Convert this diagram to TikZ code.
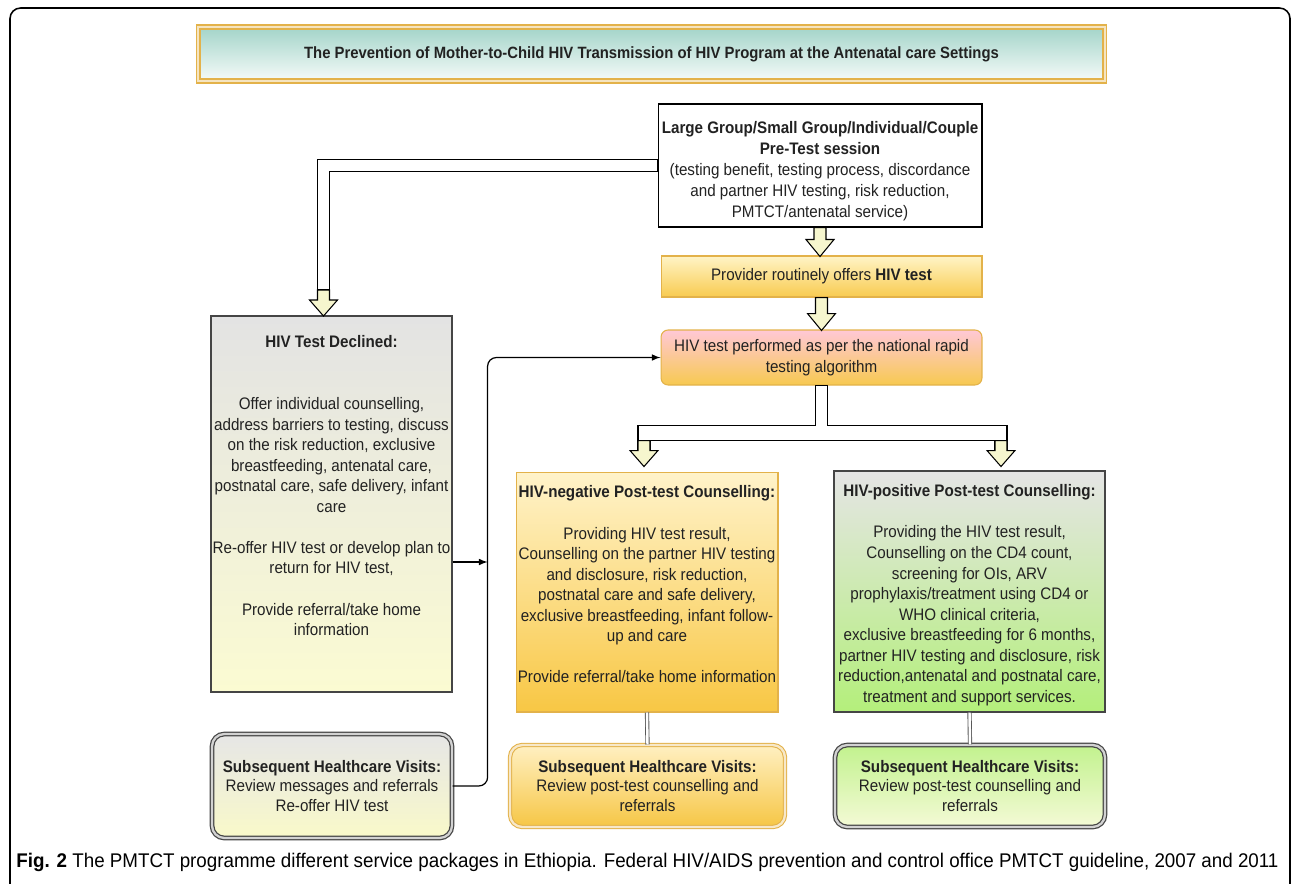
\documentclass[tikz,border=0pt]{standalone}
\usepackage{fontspec}
\setmainfont{Liberation Sans}[FakeStretch=0.91]
\newfontfamily\capfont{Liberation Sans}[FakeStretch=0.95]
\usetikzlibrary{positioning}

\definecolor{txtgray}{HTML}{222222}
\definecolor{paleyel}{HTML}{F6F6CE}
\definecolor{goldline}{HTML}{E3B24A}
\definecolor{darkline}{HTML}{454545}

\tikzset{
  every node/.style={font=\fontsize{9.5}{11.7}\selectfont, text=txtgray, align=center},
  visitfont/.style={font=\fontsize{9.5}{10.9}\selectfont},
  blockarrow/.style={draw=black, fill=paleyel, line width=0.6pt},
  pipe/.style={draw=black, fill=white, line width=0.6pt},
  link/.style={draw=black, line width=0.7pt},
  twinline/.style={draw=gray!70!black, double=white, double distance=1.4pt, line width=0.5pt},
  bannerbox/.style={draw=goldline, double=goldline!35, double distance=1.3pt, line width=0.8pt,
    top color={rgb,255:red,163;green,212;blue,201}, bottom color={rgb,255:red,246;green,251;blue,249}},
  plainbox/.style={draw=black, fill=white, line width=0.6pt},
  offerbox/.style={draw=goldline, line width=0.6pt,
    top color={rgb,255:red,255;green,244;blue,198}, bottom color={rgb,255:red,248;green,203;blue,80}},
  performbox/.style={draw=goldline, line width=0.6pt, rounded corners=4pt,
    top color={rgb,255:red,255;green,200;blue,214}, bottom color={rgb,255:red,247;green,201;blue,80}},
  declinedbox/.style={draw=darkline, line width=0.7pt,
    top color={rgb,255:red,227;green,227;blue,227}, bottom color={rgb,255:red,251;green,251;blue,210}},
  negbox/.style={draw=goldline, line width=0.6pt,
    top color={rgb,255:red,255;green,243;blue,202}, bottom color={rgb,255:red,248;green,199;blue,68}},
  posbox/.style={draw=darkline, line width=0.7pt,
    top color={rgb,255:red,229;green,229;blue,229}, bottom color={rgb,255:red,180;green,239;blue,123}},
  visitgrey/.style={visitfont, draw=darkline, double=gray!35, double distance=1.3pt, line width=0.7pt, rounded corners=7pt,
    top color={rgb,255:red,230;green,230;blue,230}, bottom color={rgb,255:red,249;green,249;blue,201}},
  visitgold/.style={visitfont, draw=goldline, double=goldline!30, double distance=1.3pt, line width=0.6pt, rounded corners=7pt,
    top color={rgb,255:red,255;green,240;blue,194}, bottom color={rgb,255:red,246;green,198;blue,69}},
  visitgreen/.style={visitfont, draw=darkline, double=gray!35, double distance=1.3pt, line width=0.7pt, rounded corners=7pt,
    top color={rgb,255:red,194;green,242;blue,142}, bottom color={rgb,255:red,244;green,250;blue,214}},
}

\begin{document}
\begin{tikzpicture}[x=0.02cm, y=-0.02cm, >=latex]
	\useasboundingbox (0,0) rectangle (1292,883);
	\clip (0,0) rectangle (1292,883);
	\draw [line width=0.9pt, rounded corners=6pt] (10,8) rectangle (1290,905);% outer frame

	% title banner
	\node [bannerbox, minimum width=18.14cm, minimum height=1.08cm, font=\fontsize{9.3}{11}\selectfont] (banner) at (651.5,54)
		{\textbf{The Prevention of Mother-to-Child HIV Transmission of HIV Program at the Antenatal care Settings}};

	% right column
	\node [plainbox, minimum width=6.48cm, minimum height=2.46cm] (pretest) at (820,165.5) {};
	\node [inner sep=0pt, below=0.36cm of pretest.north, font=\fontsize{9.5}{11.9}\selectfont] (pretesttxt)
		{\textbf{Large Group/Small Group/Individual/Couple}\\ \textbf{Pre-Test session}\\ (testing benefit, testing process, discordance\\ and partner HIV testing, risk reduction,\\ PMTCT/antenatal service)};
	\node [offerbox, minimum width=6.42cm, minimum height=0.82cm] (offer) at (821.5,276.5)
		{Provider routinely offers \textbf{HIV test}};
	\node [performbox, minimum width=6.42cm, minimum height=1.1cm] (perform) at (821.5,357.5)
		{HIV test performed as per the national rapid\\ testing algorithm};

	% left column
	\node [declinedbox, minimum width=4.82cm, minimum height=7.52cm] (declined) at (331.5,504) {};
	\node [inner sep=0pt, below=0.4cm of declined.north] (declinedtxt)
		{\textbf{HIV Test Declined:}\\[23.4pt] Offer individual counselling,\\ address barriers to testing, discuss\\ on the risk reduction, exclusive\\ breastfeeding, antenatal care,\\ postnatal care, safe delivery, infant\\ care\\[11.7pt] Re-offer HIV test or develop plan to\\ return for HIV test,\\[11.7pt] Provide referral/take home\\ information};
	\node [visitgrey, minimum width=4.8cm, minimum height=2.08cm] (visitL) at (332,786)
		{\textbf{Subsequent Healthcare Visits:}\\ Review messages and referrals\\ Re-offer HIV test};

	% post-test counselling
	\node [negbox, minimum width=5.24cm, minimum height=4.8cm] (negbox) at (647,592) {};
	\node [inner sep=0pt, below=0.28cm of negbox.north] (negtxt)
		{\textbf{HIV-negative Post-test Counselling:}\\[11.7pt] Providing HIV test result,\\ Counselling on the partner HIV testing\\ and disclosure, risk reduction,\\ postnatal care and safe delivery,\\ exclusive breastfeeding, infant follow-\\ up and care\\[11.7pt] Provide referral/take home information};
	\node [posbox, minimum width=5.42cm, minimum height=4.82cm] (posbox) at (969.5,591.5) {};
	\node [inner sep=0pt, below=0.28cm of posbox.north] (postxt)
		{\textbf{HIV-positive Post-test Counselling:}\\[11.7pt] Providing the HIV test result,\\ Counselling on the CD4 count,\\ screening for OIs, ARV\\ prophylaxis/treatment using CD4 or\\ WHO clinical criteria,\\ exclusive breastfeeding for 6 months,\\ partner HIV testing and disclosure, risk\\ reduction,antenatal and postnatal care,\\ treatment and support services.};
	\node [visitgold, minimum width=5.5cm, minimum height=1.64cm] (visitN) at (647.5,786)
		{\textbf{Subsequent Healthcare Visits:}\\ Review post-test counselling and\\ referrals};
	\node [visitgreen, minimum width=5.4cm, minimum height=1.64cm] (visitP) at (970,786)
		{\textbf{Subsequent Healthcare Visits:}\\ Review post-test counselling and\\ referrals};

	% block arrows
	\draw [blockarrow] (pretest.south) ++(-6,0) -- ++(0,12) -- ++(-8,0) -- ++(14,17) -- ++(14,-17) -- ++(-8,0) -- ++(0,-12) -- cycle;
	\draw [blockarrow] (offer.south) ++(-6,0) -- ++(0,16) -- ++(-8,0) -- ++(14,17) -- ++(14,-17) -- ++(-8,0) -- ++(0,-16) -- cycle;
	\draw [pipe] (pretest.west) ++(0,-6) -- ++(-340,0) coordinate (lbend) -- ++(0,130.5) -- ++(12,0) -- ++(0,-118.5) -- ++(328,0) -- cycle;
	\draw [blockarrow] (lbend) ++(0,130.5) -- ++(0,10) -- ++(-8,0) -- ++(14,16) -- ++(14,-16) -- ++(-8,0) -- ++(0,-10) -- cycle;
	\draw [pipe] (perform.south) ++(-6,0) -- ++(0,40) -- ++(-177.5,0) coordinate (tleft) -- ++(0,25) -- ++(12,0) -- ++(0,-10) -- ++(345,0) -- ++(0,10) -- ++(12,0) coordinate (tright) -- ++(0,-25) -- ++(-179.5,0) -- ++(0,-40) -- cycle;
	\draw [blockarrow] (tleft) ++(0,15) -- ++(0,10) -- ++(-8,0) -- ++(14,16) -- ++(14,-16) -- ++(-8,0) -- ++(0,-10) -- cycle;
	\draw [blockarrow] (tright) ++(-12,-10) -- ++(0,10) -- ++(-8,0) -- ++(14,16) -- ++(14,-16) -- ++(-8,0) -- ++(0,-10) -- cycle;

	% thin connectors
	\draw [link, ->, rounded corners=5pt] (visitL.east) -- ++(35,0) |- (perform.west);
	\draw [link, ->] (declined.east) ++(0,58) -- ++(35,0);
	\draw [twinline] (negbox.south) -- (visitN.north);
	\draw [twinline] (posbox.south) -- (visitP.north);

	% caption
	\node [anchor=west, inner sep=0pt, font=\capfont\fontsize{11.25}{13}\selectfont, text=black] (caption) at (16,862)
		{\textbf{Fig. 2} The PMTCT programme different service packages in Ethiopia. Federal HIV/AIDS prevention and control office PMTCT guideline, 2007 and 2011};
\end{tikzpicture}
\end{document}
